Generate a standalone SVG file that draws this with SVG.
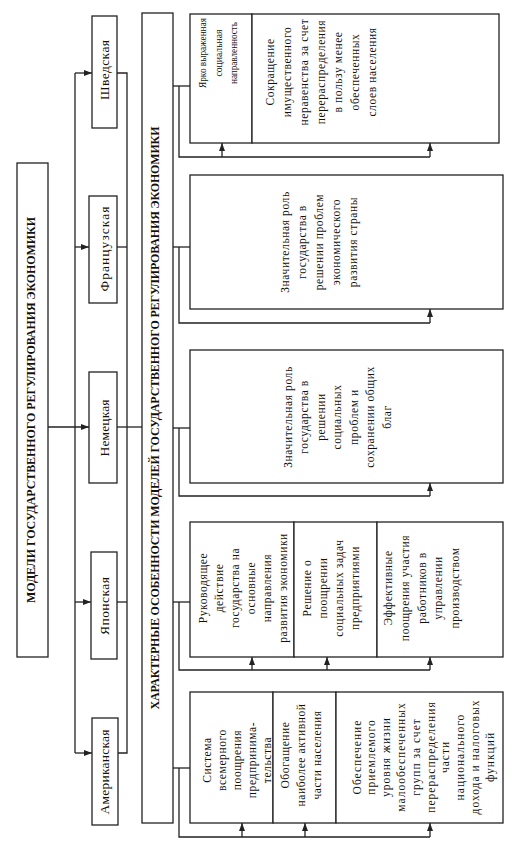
<svg xmlns="http://www.w3.org/2000/svg" width="523" height="864" viewBox="0 0 523 864">
<style>
.b{fill:#fff;stroke:#222;stroke-width:1.3}
.l{fill:none;stroke:#222;stroke-width:1.3}
.t{font-family:"Liberation Serif","Times New Roman",serif;font-size:11.5px;fill:#111;text-anchor:middle;letter-spacing:0.6px}
.s{font-family:"Liberation Serif","Times New Roman",serif;font-size:11px;fill:#111;text-anchor:middle}
.c{font-family:"Liberation Serif","Times New Roman",serif;font-size:13.5px;fill:#111;text-anchor:middle}
.h{font-family:"Liberation Serif","Times New Roman",serif;font-size:12px;font-weight:bold;fill:#111;text-anchor:middle}
</style>
<defs>
<marker id="a" viewBox="0 0 8 6" refX="8" refY="3" markerWidth="8" markerHeight="6" markerUnits="userSpaceOnUse" orient="auto"><path d="M0,0 L8,3 L0,6 z" fill="#222"/></marker>
</defs>
<rect width="523" height="864" fill="#fff"/>

<g id="connectors">
<line class="l" x1="48" y1="427" x2="89" y2="427" marker-end="url(#a)"/>
<line class="l" x1="75" y1="73" x2="75" y2="753"/>
<line class="l" x1="75" y1="73" x2="92" y2="73" marker-end="url(#a)"/>
<line class="l" x1="75" y1="247" x2="89" y2="247" marker-end="url(#a)"/>
<line class="l" x1="75" y1="602" x2="91" y2="602" marker-end="url(#a)"/>
<line class="l" x1="75" y1="753" x2="92" y2="753" marker-end="url(#a)"/>
<polyline class="l" points="117,73 127,73 127,753 118,753"/>
<line class="l" x1="117" y1="247" x2="127" y2="247"/>
<line class="l" x1="117" y1="427" x2="142" y2="427"/>
<line class="l" x1="117" y1="602" x2="127" y2="602"/>

<line class="l" x1="173" y1="86" x2="190" y2="86"/>
<polyline class="l" points="179,86 179,157 430,157"/>
<line class="l" x1="222" y1="157" x2="222" y2="143" marker-end="url(#a)"/>
<line class="l" x1="430" y1="157" x2="430" y2="143" marker-end="url(#a)"/>

<line class="l" x1="173" y1="247" x2="190" y2="247"/>
<polyline class="l" points="179,247 179,323 430,323"/>
<line class="l" x1="430" y1="323" x2="430" y2="309" marker-end="url(#a)"/>

<line class="l" x1="173" y1="428" x2="190" y2="428"/>
<polyline class="l" points="179,428 179,496 430,496"/>
<line class="l" x1="430" y1="496" x2="430" y2="483" marker-end="url(#a)"/>

<line class="l" x1="173" y1="602" x2="190" y2="602"/>
<polyline class="l" points="179,602 179,670 430,670"/>
<line class="l" x1="252" y1="670" x2="252" y2="657" marker-end="url(#a)"/>
<line class="l" x1="327" y1="670" x2="327" y2="657" marker-end="url(#a)"/>
<line class="l" x1="430" y1="670" x2="430" y2="657" marker-end="url(#a)"/>

<line class="l" x1="173" y1="768" x2="190" y2="768"/>
<polyline class="l" points="179,768 179,837 430,837"/>
<line class="l" x1="242" y1="837" x2="242" y2="823" marker-end="url(#a)"/>
<line class="l" x1="305" y1="837" x2="305" y2="823" marker-end="url(#a)"/>
<line class="l" x1="430" y1="837" x2="430" y2="823" marker-end="url(#a)"/>
</g>

<g id="title">
<rect class="b" x="17" y="163" width="31" height="494"/>
<text class="h" transform="rotate(-90)" x="-410" y="35" textLength="386" lengthAdjust="spacing">МОДЕЛИ ГОСУДАРСТВЕННОГО РЕГУЛИРОВАНИЯ  ЭКОНОМИКИ</text>
</g>

<g id="sweden"><rect class="b" x="92" y="16" width="25" height="112"/>
<text class="c" transform="rotate(-90)" x="-70" y="109" textLength="60" lengthAdjust="spacing">Шведская</text></g>
<g id="france"><rect class="b" x="89" y="196" width="28" height="107"/>
<text class="c" transform="rotate(-90)" x="-249" y="109" textLength="85" lengthAdjust="spacing">Французская</text></g>
<g id="germany"><rect class="b" x="89" y="372" width="28" height="111"/>
<text class="c" transform="rotate(-90)" x="-428" y="109" textLength="57" lengthAdjust="spacing">Немецкая</text></g>
<g id="japan"><rect class="b" x="91" y="552" width="26" height="107"/>
<text class="c" transform="rotate(-90)" x="-606" y="109" textLength="58" lengthAdjust="spacing">Японская</text></g>
<g id="america"><rect class="b" x="92" y="718" width="26" height="107"/>
<text class="c" transform="rotate(-90)" x="-772" y="109" textLength="85" lengthAdjust="spacing">Американская</text></g>

<g id="features">
<rect class="b" x="142" y="13" width="31" height="810"/>
<text class="h" transform="rotate(-90)" x="-418" y="159" textLength="583" lengthAdjust="spacing">ХАРАКТЕРНЫЕ ОСОБЕННОСТИ МОДЕЛЕЙ ГОСУДАРСТВЕННОГО РЕГУЛИРОВАНИЯ ЭКОНОМИКИ</text>
</g>

<g id="g1a"><rect class="b" x="190" y="14" width="62" height="129"/>
<text class="s" transform="rotate(-90)"><tspan x="-53" y="206" textLength="70" lengthAdjust="spacingAndGlyphs">Ярко выраженная</tspan><tspan x="-53" y="221.5" textLength="47" lengthAdjust="spacingAndGlyphs">социальная</tspan><tspan x="-53" y="237" textLength="62" lengthAdjust="spacingAndGlyphs">направленность</tspan></text></g>
<g id="g1b"><rect class="b" x="252" y="14" width="247" height="129"/>
<text class="t" transform="rotate(-90)"><tspan x="-72" y="273.5">Сокращение</tspan><tspan x="-72" y="290.5">имущественного</tspan><tspan x="-72" y="307.5">неравенства за счет</tspan><tspan x="-72" y="324.5">перераспределения</tspan><tspan x="-72" y="341.5">в пользу менее</tspan><tspan x="-72" y="358.5">обеспеченных</tspan><tspan x="-72" y="375.5">слоев населения</tspan></text></g>

<g id="g2"><rect class="b" x="190" y="175" width="313" height="134"/>
<text class="t" transform="rotate(-90)"><tspan x="-242" y="288.5">Значительная роль</tspan><tspan x="-242" y="305.5">государства в</tspan><tspan x="-242" y="322.5">решении проблем</tspan><tspan x="-242" y="339.5">экономического</tspan><tspan x="-242" y="356.5">развития страны</tspan></text></g>

<g id="g3"><rect class="b" x="190" y="350" width="313" height="133"/>
<text class="t" transform="rotate(-90)"><tspan x="-417" y="291.5">Значительная роль</tspan><tspan x="-417" y="308">государства в</tspan><tspan x="-417" y="324.5">решении</tspan><tspan x="-417" y="341">социальных</tspan><tspan x="-417" y="357.5">проблем и</tspan><tspan x="-417" y="374">сохранении общих</tspan><tspan x="-417" y="390.5">благ</tspan></text></g>

<g id="g4a"><rect class="b" x="190" y="522" width="104" height="135"/>
<text class="t" transform="rotate(-90)"><tspan x="-588" y="206.5">Руководящее</tspan><tspan x="-588" y="222.5">действие</tspan><tspan x="-588" y="238.5">государства на</tspan><tspan x="-588" y="254.5">основные</tspan><tspan x="-588" y="270.5">направления</tspan><tspan x="-588" y="286.5">развития экономики</tspan></text></g>
<g id="g4b"><rect class="b" x="294" y="522" width="83" height="135"/>
<text class="t" transform="rotate(-90)"><tspan x="-588" y="310.5">Решение о</tspan><tspan x="-588" y="326.5">поощрении</tspan><tspan x="-588" y="342.5">социальных задач</tspan><tspan x="-588" y="358.5">предприятиями</tspan></text></g>
<g id="g4c"><rect class="b" x="377" y="522" width="126" height="135"/>
<text class="t" transform="rotate(-90)"><tspan x="-588" y="391.5">Эффективные</tspan><tspan x="-588" y="408.5">поощрения участия</tspan><tspan x="-588" y="425.5">работников в</tspan><tspan x="-588" y="441.5">управлении</tspan><tspan x="-588" y="458.5">производством</tspan></text></g>

<g id="g5a"><rect class="b" x="190" y="692" width="83" height="131"/>
<text class="t" transform="rotate(-90)"><tspan x="-760" y="210.5">Система</tspan><tspan x="-760" y="225.5">всемерного</tspan><tspan x="-760" y="240.5">поощрения</tspan><tspan x="-760" y="255.5">предпринима-</tspan><tspan x="-760" y="270.5">тельства</tspan></text></g>
<g id="g5b"><rect class="b" x="273" y="692" width="63" height="131"/>
<text class="t" transform="rotate(-90)"><tspan x="-755" y="288.5">Обогащение</tspan><tspan x="-755" y="304.5">наиболее активной</tspan><tspan x="-755" y="320.5">части населения</tspan></text></g>
<g id="g5c"><rect class="b" x="336" y="692" width="167" height="131"/>
<text class="t" transform="rotate(-90)" style="letter-spacing:1px"><tspan x="-757" y="360.5">Обеспечение</tspan><tspan x="-757" y="375.3">приемлемого</tspan><tspan x="-757" y="390.1">уровня жизни</tspan><tspan x="-757" y="404.9">малообеспеченных</tspan><tspan x="-757" y="419.7">групп за счет</tspan><tspan x="-757" y="434.5">перераспределения</tspan><tspan x="-757" y="449.3">части</tspan><tspan x="-757" y="464.1">национального</tspan><tspan x="-757" y="478.9">дохода и налоговых</tspan><tspan x="-757" y="493.7">функций</tspan></text></g>
</svg>
